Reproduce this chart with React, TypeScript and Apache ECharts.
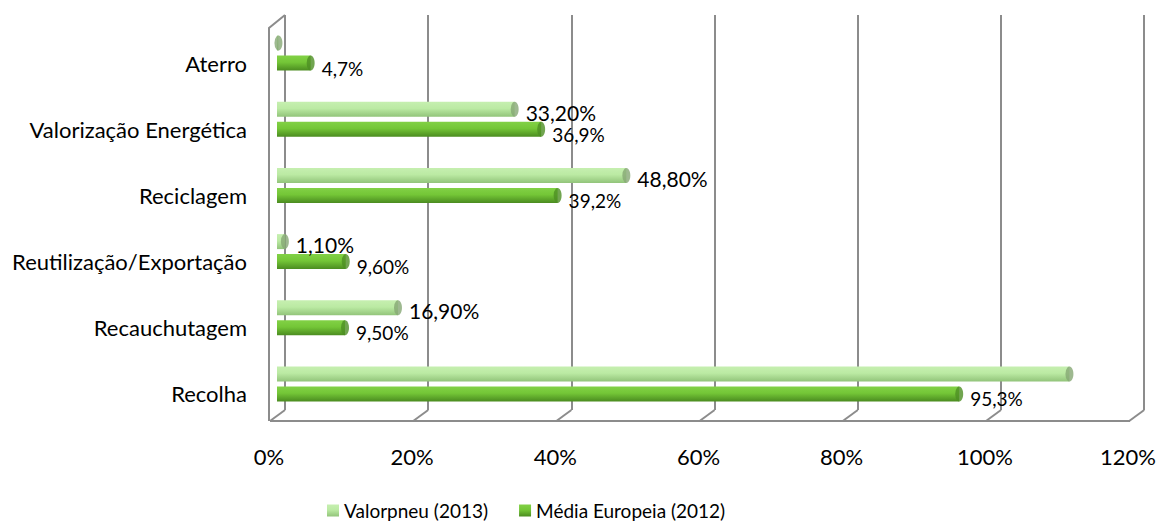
import React, { useEffect, useRef } from "react";
import * as echarts from "echarts";

const categories = [
  "Recolha",
  "Recauchutagem",
  "Reutilização/Exportação",
  "Reciclagem",
  "Valorização Energética",
  "Aterro",
];
const valorpneu = [110.7, 16.9, 1.1, 48.8, 33.2, 0.2];
const valorpneuLabels = ["", "16,90%", "1,10%", "48,80%", "33,20%", ""];
const mediaEuropeia = [95.3, 9.5, 9.6, 39.2, 36.9, 4.7];
const mediaLabels = ["95,3%", "9,50%", "9,60%", "39,2%", "36,9%", "4,7%"];
const xTicks = [0, 20, 40, 60, 80, 100, 120];

const FONT = "Lato, 'Open Sans', sans-serif";
const LINE = "#8c8c8c";

export default function App() {
  const ref = useRef<HTMLDivElement>(null);
  useEffect(() => {
    if (!ref.current) return;
    const chart = echarts.init(ref.current, null, { renderer: "svg" });
    const lightGrad = new echarts.graphic.LinearGradient(0, 0, 0, 1, [
      { offset: 0, color: "#c6efb0" },
      { offset: 0.45, color: "#bbeaa3" },
      { offset: 1, color: "#92c47a" },
    ]);
    const darkGrad = new echarts.graphic.LinearGradient(0, 0, 0, 1, [
      { offset: 0, color: "#82d146" },
      { offset: 0.45, color: "#74c637" },
      { offset: 1, color: "#4b8c20" },
    ]);
    const frameLines: any[] = [];
    frameLines.push({
      type: "line",
      shape: { x1: 270, y1: 421, x2: 1130, y2: 421 },
      style: { stroke: LINE, lineWidth: 2 },
      z: 1,
    });
    xTicks.forEach((t, i) => {
      const xb = 285 + i * 143.2;
      frameLines.push({
        type: "line",
        shape: { x1: xb, y1: 410, x2: xb - 15, y2: 421 },
        style: { stroke: LINE, lineWidth: 2 },
        z: 1,
      });
    });
    frameLines.push({
      type: "polyline",
      shape: { points: [[285, 15], [269, 28], [269, 421]] },
      style: { stroke: LINE, lineWidth: 2, fill: null },
      z: 1,
    });

    chart.setOption({
      animation: false,
      textStyle: { fontFamily: FONT },
      legend: {
        left: 322,
        top: 496,
        icon: "rect",
        itemWidth: 12,
        itemHeight: 12,
        itemGap: 31,
        textStyle: { fontSize: 19, color: "#000", fontFamily: FONT },
        data: ["Valorpneu (2013)", "Média Europeia (2012)"],
      },
      graphic: frameLines,
      grid: [
        { left: 277, right: 24, top: 20, bottom: 112 },
        { left: 285, right: 16, top: 15, bottom: 119 },
        { left: 277, right: 24, top: 30, bottom: 102 },
      ],
      xAxis: [
        {
          type: "value",
          gridIndex: 0,
          min: 0,
          max: 120,
          interval: 20,
          splitLine: { show: false },
          axisLine: { show: false },
          axisTick: { show: false },
          axisLabel: {
            formatter: "{value}%",
            fontSize: 22,
            color: "#000",
            margin: 28,
            padding: [0, 16, 0, 0],
            fontFamily: FONT,
          },
        },
        {
          type: "value",
          gridIndex: 1,
          min: 0,
          max: 120,
          interval: 20,
          splitLine: { show: true, lineStyle: { color: LINE, width: 2 } },
          axisLine: { show: false },
          axisTick: { show: false },
          axisLabel: { show: false },
        },
        {
          type: "value",
          gridIndex: 2,
          min: 0,
          max: 120,
          show: false,
        },
      ],
      yAxis: [
        {
          type: "category",
          gridIndex: 0,
          data: categories,
          axisLine: { show: false },
          axisTick: { show: false },
          axisLabel: { show: false },
        },
        {
          type: "value",
          gridIndex: 1,
          show: false,
        },
        {
          type: "category",
          gridIndex: 2,
          data: categories,
          axisLine: { show: false },
          axisTick: { show: false },
          axisLabel: {
            fontSize: 22,
            color: "#000",
            margin: 30,
            fontFamily: FONT,
          },
        },
      ],
      series: [
        {
          name: "Valorpneu (2013)",
          type: "bar",
          data: valorpneu,
          barWidth: 15,
          barGap: "33%",
          itemStyle: { color: lightGrad },
          label: {
            show: true,
            position: "right",
            distance: 11,
            offset: [0, 3],
            fontSize: 21,
            color: "#000",
            fontFamily: FONT,
            formatter: (p: any) => valorpneuLabels[p.dataIndex],
          },
          z: 3,
        },
        {
          name: "Média Europeia (2012)",
          type: "bar",
          data: mediaEuropeia,
          barWidth: 15,
          itemStyle: { color: darkGrad },
          label: {
            show: true,
            position: "right",
            distance: 11,
            offset: [0, 5],
            fontSize: 19,
            color: "#000",
            fontFamily: FONT,
            formatter: (p: any) => mediaLabels[p.dataIndex],
          },
          z: 3,
        },
        {
          type: "scatter",
          data: valorpneu.map((v, i) => [v, i]),
          symbol: "circle",
          symbolSize: [8, 15],
          symbolOffset: [0, -10],
          itemStyle: { color: "#86a874" },
          silent: true,
          z: 4,
        },
        {
          type: "scatter",
          data: mediaEuropeia.map((v, i) => [v, i]),
          symbol: "circle",
          symbolSize: [8, 15],
          symbolOffset: [0, 10],
          itemStyle: { color: "#4e8f24" },
          silent: true,
          z: 4,
        },
      ],
    });
    return () => chart.dispose();
  }, []);
  return (
    <div
      ref={ref}
      style={{ position: "fixed", left: 0, top: 0, width: 1160, height: 529, background: "#fff" }}
    />
  );
}
